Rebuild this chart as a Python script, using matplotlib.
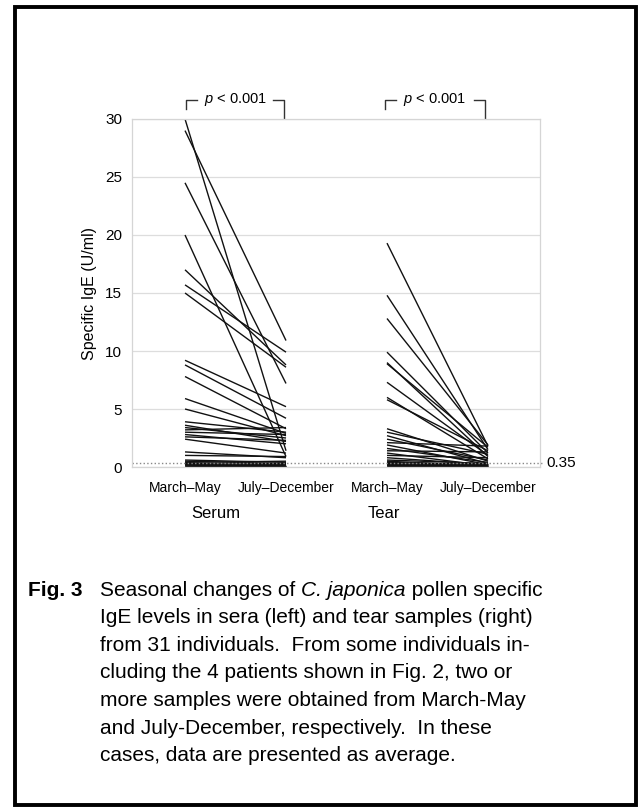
import matplotlib.pyplot as plt
from matplotlib.patches import Rectangle

#--------------- Style ---------------------
plt.rcParams['font.family'] = ['Liberation Sans', 'DejaVu Sans']
plt.rcParams['mathtext.fontset'] = 'custom'
plt.rcParams['mathtext.rm'] = 'Liberation Sans'
plt.rcParams['mathtext.it'] = 'Liberation Sans:italic'

# --------------- Data (U/ml) ---------------
serum_mar_may = [30.0, 29.0, 24.5, 20.0, 17.0, 15.7, 15.0, 9.2, 8.8, 7.8, 5.9,
                 5.0, 3.9, 3.6, 3.4, 3.2, 3.0, 2.8, 2.6, 2.4, 1.3, 1.0, 0.6,
                 0.5, 0.4, 0.3, 0.2, 0.2, 0.1, 0.1, 0.1]
serum_jul_dec = [1.4, 10.9, 7.2, 0.9, 8.8, 9.9, 8.6, 5.2, 4.2, 3.3, 2.9,
                 2.7, 3.0, 2.2, 2.5, 3.4, 2.8, 2.0, 2.3, 1.2, 0.8, 0.9, 0.4,
                 0.3, 0.5, 0.2, 0.3, 0.1, 0.2, 0.1, 0.1]
tear_mar_may = [19.3, 14.8, 12.8, 9.9, 9.0, 8.9, 7.3, 6.0, 5.8, 3.3, 3.0,
                2.7, 2.4, 2.1, 1.9, 1.6, 1.4, 1.2, 1.0, 0.8, 0.6, 0.5, 0.4,
                0.3, 0.3, 0.2, 0.2, 0.2, 0.1, 0.1, 0.1]
tear_jul_dec = [1.8, 1.5, 1.9, 1.2, 0.9, 1.7, 1.0, 0.7, 1.4, 0.5, 1.1,
                0.3, 0.6, 1.8, 0.2, 0.4, 1.3, 0.1, 0.8, 0.2, 0.3, 0.1, 0.2,
                0.1, 0.3, 0.1, 0.2, 0.1, 0.1, 0.2, 0.1]
period_labels = ['March\u2013May', 'July\u2013December', 'March\u2013May', 'July\u2013December']
cutoff = 0.35

W, H = 638, 807
fig = plt.figure(figsize=(W / 100, H / 100), dpi=100)

def fx(px):
    return px / W

def fy(py):
    return 1 - py / H

ax = fig.add_axes([fx(132), fy(467), fx(540) - fx(132), (467 - 119) / H])
ax.set_xlim(0.475, 4.515)
ax.set_ylim(0, 30)

for a, b in zip(serum_mar_may, serum_jul_dec):
    ax.plot([1, 2], [a, b], color='#111111', lw=1.0, solid_capstyle='butt')
for a, b in zip(tear_mar_may, tear_jul_dec):
    ax.plot([3, 4], [a, b], color='#111111', lw=1.0, solid_capstyle='butt')

ax.set_yticks(range(0, 31, 5))
ax.grid(axis='y', color='#dddddd', lw=0.9)
ax.set_axisbelow(True)
for s in ax.spines.values():
    s.set_color('#d5d5d5')
    s.set_linewidth(0.9)
ax.tick_params(axis='y', length=0, pad=7, labelsize=11)
ax.set_xticks([1, 2, 3, 4])
ax.set_xticklabels(period_labels, fontsize=10)
ax.tick_params(axis='x', length=0, pad=10)

# 0.35 cutoff line
ax.plot([0.475, 4.55], [cutoff, cutoff], color='#888888', lw=1.0, ls=':', clip_on=False)
ax.text(4.58, cutoff, '0.35', fontsize=11, va='center', ha='left')

# p-value brackets
for x0, x1 in [(1.01, 1.98), (2.98, 3.97)]:
    xm = (x0 + x1) / 2
    ax.plot([x0, x0, x0 + 0.11], [30.9, 31.6, 31.6], color='#333333', lw=1.0, clip_on=False)
    ax.plot([x1 - 0.11, x1, x1], [31.6, 31.6, 30.1], color='#333333', lw=1.0, clip_on=False)
    ax.text(xm, 31.65, r'$\it{p}$ < 0.001', ha='center', va='center', fontsize=10.5)

fig.text(fx(90), fy(293), 'Specific IgE (U/ml)', rotation=90, ha='center', va='center', fontsize=11.5)
fig.text(fx(216), fy(513), 'Serum', ha='center', va='center', fontsize=12)
fig.text(fx(384), fy(513), 'Tear', ha='center', va='center', fontsize=12)

# caption
caption_first = [('Seasonal changes of ', 'normal'), ('C. japonica', 'italic'),
                 (' pollen specific', 'normal')]
caption = [
    'IgE levels in sera (left) and tear samples (right)',
    'from 31 individuals.  From some individuals in-',
    'cluding the 4 patients shown in Fig. 2, two or',
    'more samples were obtained from March-May',
    'and July-December, respectively.  In these',
    'cases, data are presented as average.',
]
fs = 15
fig.text(fx(28), fy(590), 'Fig. 3', fontweight='bold', fontsize=fs, va='center', ha='left')

renderer = fig.canvas.get_renderer()
xpos = 100
for piece, style in caption_first:
    t = fig.text(fx(xpos), fy(590), piece, fontsize=fs, style=style, va='center', ha='left')
    xpos += t.get_window_extent(renderer).width
for i, line in enumerate(caption):
    fig.text(fx(100), fy(590 + (i + 1) * 27.65), line, fontsize=fs, va='center', ha='left')

# frame
fig.patches.append(Rectangle((fx(15), fy(805)), fx(636) - fx(15), fy(7) - fy(805),
                             transform=fig.transFigure, fill=False, lw=2.8, ec='black'))

fig.savefig('out.png', dpi=100)
